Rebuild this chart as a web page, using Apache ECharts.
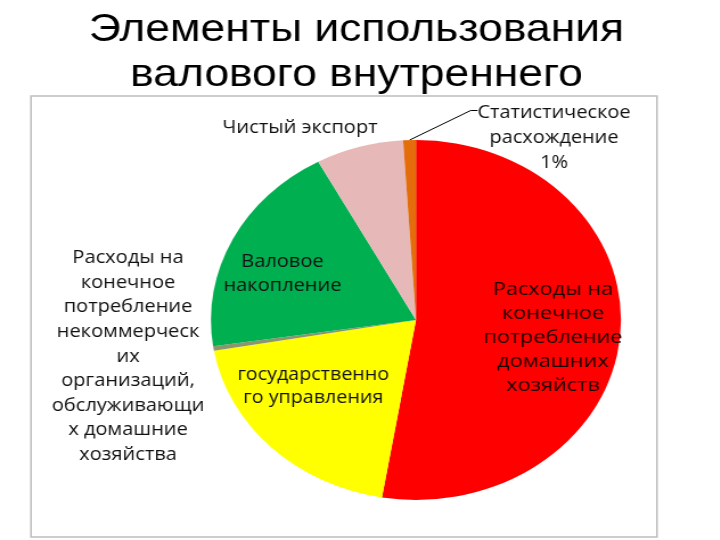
<!DOCTYPE html>
<html>
<head>
<meta charset="utf-8">
<script src="https://cdn.jsdelivr.net/npm/echarts@6/dist/echarts.min.js"></script>
<style>
  html, body { margin: 0; padding: 0; background: #ffffff; overflow: hidden; }
  #wrap { width: 720px; height: 540px; overflow: hidden; }
  #chart { width: 632px; height: 540px; transform: scaleX(1.139); transform-origin: 0 0; }
</style>
</head>
<body>
<div id="wrap"><div id="chart"></div></div>
<script>
// ---- data ----
const titleLines = ['Элементы использования', 'валового внутреннего'];
const categories = [
  'Расходы на конечное потребление домашних хозяйств',
  'Расходы на конечное потребление государственного управления',
  'Расходы на конечное потребление некоммерческих организаций, обслуживающих домашние хозяйства',
  'Валовое накопление',
  'Чистый экспорт',
  'Статистическое расхождение'
];
const values = [52.6, 19.6, 0.4, 19.4, 6.9, 1.0];
const labelTexts = [
  'Расходы на\nконечное\nпотребление\nдомашних\nхозяйств',
  'государственно\nго управления',
  'Расходы на\nконечное\nпотребление\nнекоммерческ\nих\nорганизаций,\nобслуживающи\nх домашние\nхозяйства',
  'Валовое\nнакопление',
  'Чистый экспорт',
  'Статистическое\nрасхождение'
];
const showPercent = [false, false, false, false, false, true];

// ---- styling / layout (kept separate from data) ----
const colors = ['#ff0000', '#ffff00', '#8c9470', '#00b050', '#e6b9b8', '#e46c0a'];
const labelPos = [
  [485.5, 338], [275, 387], [112.4, 356.5], [248, 274], [263.4, 128], [486.4, 138]
];
const labelLineHeights = [24, 23, 24.6, 24, 24, 25];
const labelSizes = [19, 17.3, 17.6, 17.6, 17.6, 17.5];
const labelColors = ['#1a0000', '#111111', '#111111', '#111111', '#111111', '#111111'];

const chart = echarts.init(document.getElementById('chart'), null, { renderer: 'canvas' });

const seriesData = categories.map((name, i) => ({
  name: name,
  value: values[i],
  itemStyle: { color: colors[i] },
  label: {
    show: true,
    position: (i === 0 || i === 1 || i === 3) ? 'inside' : 'outside',
    lineHeight: labelLineHeights[i],
    fontSize: labelSizes[i],
    color: labelColors[i],
    textBorderWidth: 0,
    textBorderColor: 'transparent',
    fontFamily: '"Open Sans", "Noto Sans", sans-serif',
    align: 'center'
  },
  labelLine: { show: i === 5, lineStyle: { color: '#000000', width: 1 }, length: 10, length2: 10 }
}));

chart.setOption({
  animation: false,
  backgroundColor: '#ffffff',
  title: {
    text: titleLines.join('\n'),
    left: 308,
    textAlign: 'center',
    top: 3,
    textStyle: {
      fontFamily: '"Liberation Sans", Arial, sans-serif',
      fontSize: 39,
      fontWeight: 'normal',
      color: '#000000',
      lineHeight: 45
    }
  },
  graphic: [{
    type: 'rect',
    z: 100,
    shape: { x: 27.2, y: 96, width: 549.6, height: 441 },
    style: { fill: 'none', stroke: '#bdbdbd', lineWidth: 1.5 },
    silent: true
  }],
  series: [{
    type: 'pie',
    center: [365.2, 320],
    radius: 180,
    startAngle: 90,
    clockwise: true,
    avoidLabelOverlap: false,
    silent: true,
    itemStyle: { borderWidth: 0 },
    label: {
      formatter: function (p) {
        return labelTexts[p.dataIndex] + (showPercent[p.dataIndex] ? '\n' + Math.round(p.percent) + '%' : '');
      }
    },
    labelLayout: function (params) {
      const i = params.dataIndex;
      const out = {
        x: labelPos[i][0],
        y: labelPos[i][1],
        align: 'center',
        verticalAlign: 'middle'
      };
      if (i === 5 && params.labelLinePoints) {
        const anchor = params.labelLinePoints[0];
        const w = params.labelRect.width;
        const h = params.labelRect.height;
        const left = labelPos[i][0] - w / 2;
        const topY = labelPos[i][1] - h / 2 + labelLineHeights[i] * 0.4;
        out.labelLinePoints = [anchor, [left - 6, topY], [left, topY]];
      }
      return out;
    },
    data: seriesData
  }]
});
</script>
</body>
</html>
